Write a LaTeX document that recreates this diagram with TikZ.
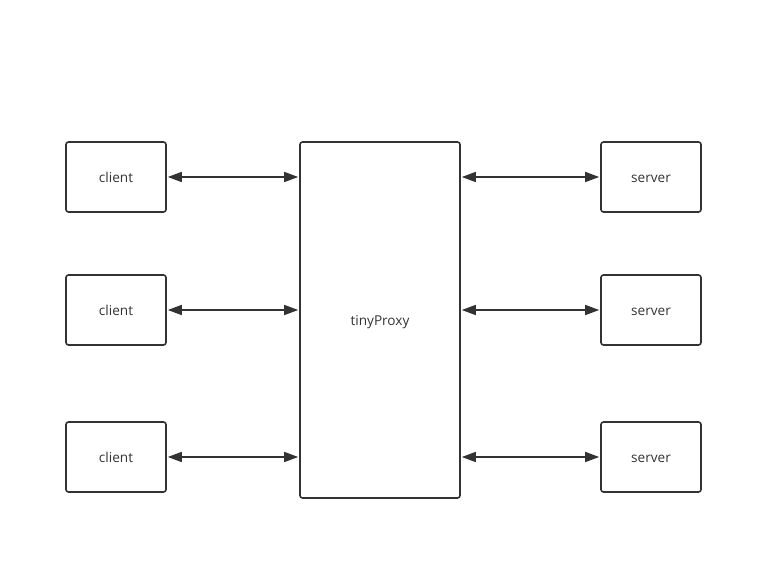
\documentclass[tikz,border=0pt]{standalone}
\usepackage{fontspec}
\setmainfont{Open Sans}
\usetikzlibrary{arrows.meta}
\definecolor{ink}{HTML}{333333}
\begin{document}
\begin{tikzpicture}[x=1pt,y=-1pt,
  box/.style={draw=ink,line width=1.6pt,rounded corners=2.5pt,inner sep=0pt,text height=10.5pt,text depth=0pt,font=\fontsize{13.6}{16}\selectfont,text=ink},
  small/.style={box,minimum width=100pt,minimum height=70pt},
  link/.style={draw=ink,line width=1.6pt,{Triangle[length=14pt,width=10pt]}-{Triangle[length=14pt,width=10pt]},shorten <=1pt,shorten >=1pt}]
\useasboundingbox (0,0) rectangle (763,561);
\node[small] (c1) at (116,177) {client};
\node[small] (c2) at (116,310) {client};
\node[small] (c3) at (116,457) {client};
\node[box,minimum width=160pt,minimum height=356pt] (p) at (380,320) {tinyProxy};
\node[small] (s1) at (651,177) {server};
\node[small] (s2) at (651,310) {server};
\node[small] (s3) at (651,457) {server};
\draw[link] (c1.east) -- (c1.east -| p.west);
\draw[link] (c2.east) -- (c2.east -| p.west);
\draw[link] (c3.east) -- (c3.east -| p.west);
\draw[link] (s1.west -| p.east) -- (s1.west);
\draw[link] (s2.west -| p.east) -- (s2.west);
\draw[link] (s3.west -| p.east) -- (s3.west);
\end{tikzpicture}
\end{document}
